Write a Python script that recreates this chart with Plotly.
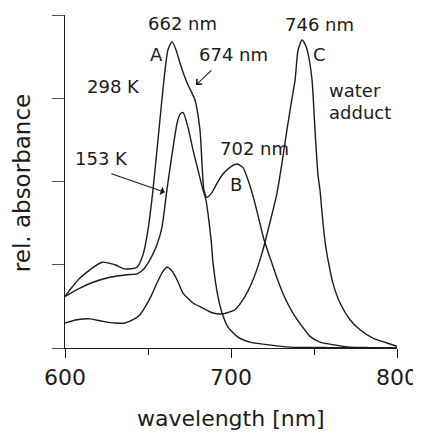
import plotly.graph_objects as go

# ---- data ----
wl_298 = [600.0, 609.0, 622.3, 630.1, 636.1, 643.4, 647.0, 650.0, 653.0, 656.6, 659.6, 662.0, 664.5,
          666.9, 669.3, 671.7, 674.1, 678.3, 681.3, 683.7, 685.5, 688.6, 691.6, 695.2, 699.4, 703.6,
          707.2, 710.2, 713.9, 716.9, 719.9, 724.1, 727.7, 732.5, 737.3, 742.8, 747.6, 753.6, 761.4,
          771.7, 783.7, 800.0]
abs_298 = [0.62, 0.84, 1.03, 1.00, 0.95, 0.97, 1.12, 1.42, 1.90, 2.62, 3.22, 3.58, 3.68,
           3.58, 3.42, 3.28, 3.16, 2.98, 2.62, 1.90, 1.81, 1.87, 1.98, 2.09, 2.17, 2.21,
           2.17, 2.02, 1.78, 1.54, 1.30, 1.05, 0.84, 0.60, 0.42, 0.26, 0.14, 0.07, 0.04,
           0.01, 0.005, 0.0]

wl_153 = [600.0, 609.0, 616.9, 627.1, 637.3, 643.4, 647.0, 650.0, 653.0, 655.4, 658.4, 661.4, 665.1,
          667.5, 669.3, 671.1, 674.1, 677.1, 680.1, 683.1, 684.9, 686.1, 688.0, 689.2, 692.2, 694.6,
          698.2, 704.2, 711.4, 721.7, 735.5, 759.6, 800.0]
abs_153 = [0.62, 0.72, 0.79, 0.85, 0.88, 0.89, 0.94, 1.02, 1.13, 1.24, 1.45, 1.90, 2.41,
           2.70, 2.81, 2.83, 2.65, 2.38, 2.14, 1.90, 1.78, 1.62, 1.30, 1.02, 0.61, 0.42,
           0.25, 0.13, 0.07, 0.04, 0.01, 0.005, 0.0]

wl_water = [600.0, 607.2, 615.1, 622.9, 630.1, 636.1, 641.0, 645.2, 648.2, 651.8, 655.4, 659.0, 661.4,
            663.9, 667.5, 671.1, 677.1, 683.1, 689.2, 695.2, 702.4, 707.2, 713.3, 718.7, 723.5, 727.7,
            730.7, 733.7, 736.1, 738.6, 740.4, 742.8, 744.6, 746.4, 748.8, 750.6, 752.4, 753.6, 754.8,
            756.0, 757.2, 759.0, 761.4, 765.7, 771.7, 777.7, 785.5, 794.0, 800.0]
abs_water = [0.30, 0.34, 0.35, 0.32, 0.30, 0.30, 0.34, 0.40, 0.49, 0.62, 0.78, 0.92, 0.97,
             0.94, 0.82, 0.66, 0.54, 0.48, 0.42, 0.41, 0.46, 0.58, 0.82, 1.14, 1.51, 1.86,
             2.22, 2.62, 2.92, 3.22, 3.58, 3.70, 3.65, 3.54, 3.22, 2.62, 2.08, 1.90, 1.63,
             1.39, 1.20, 1.00, 0.78, 0.54, 0.34, 0.22, 0.12, 0.06, 0.02]

x_tick_vals = [600, 700, 800]
x_tick_text = ["600", "700", "800"]
y_tick_vals = [0, 1, 2, 3, 4]

FONT = "DejaVu Sans"
INK = "#1c1c1c"

fig = go.Figure()
for wl, ab, name in [(wl_298, abs_298, "298 K"), (wl_153, abs_153, "153 K"),
                     (wl_water, abs_water, "water adduct")]:
    fig.add_trace(go.Scatter(x=wl, y=ab, mode="lines", name=name,
                             line=dict(color=INK, width=1.4, shape="spline", smoothing=0.6),
                             hoverinfo="skip"))

labels = [
    ("662 nm", 670.5, 3.90, "center"),
    ("A", 655.4, 3.52, "center"),
    ("674 nm", 701.8, 3.53, "center"),
    ("298 K", 629.5, 3.14, "center"),
    ("153 K", 621.7, 2.28, "center"),
    ("702 nm", 713.9, 2.40, "center"),
    ("B", 703.0, 1.96, "center"),
    ("746 nm", 753.6, 3.88, "center"),
    ("C", 753.6, 3.52, "center"),
    ("water", 757.8, 3.09, "left"),
    ("adduct", 757.8, 2.83, "left"),
]
annotations = []
for t, x, y, xa in labels:
    annotations.append(dict(text=t, x=x, y=y, xref="x", yref="y", showarrow=False,
                            xanchor=xa, yanchor="middle",
                            font=dict(family=FONT, size=18, color=INK)))

# arrows
annotations.append(dict(text="", x=678.9, y=3.16, xref="x", yref="y", showarrow=True,
                        ax=17, ay=-16, arrowhead=4, arrowsize=1.3, arrowwidth=1.1,
                        arrowcolor=INK))
annotations.append(dict(text="", x=660.2, y=1.87, xref="x", yref="y", showarrow=True,
                        ax=-55, ay=-19, arrowhead=1, arrowsize=1.3, arrowwidth=1.1,
                        arrowcolor=INK))

# axis titles
annotations.append(dict(text="wavelength [nm]", x=0.5, y=-0.213, xref="paper", yref="paper",
                        showarrow=False, xanchor="center", yanchor="middle",
                        font=dict(family=FONT, size=22, color=INK)))
annotations.append(dict(text="rel. absorbance", x=-0.1295, y=0.495, xref="paper", yref="paper",
                        showarrow=False, xanchor="center", yanchor="middle", textangle=-90,
                        font=dict(family=FONT, size=23, color=INK)))

# the page adds an 8 px body margin, so the figure is 8 px smaller and shifted
fig.update_layout(
    width=413, height=427,
    margin=dict(l=57, r=24, t=7, b=87, autoexpand=False),
    paper_bgcolor="white", plot_bgcolor="white",
    showlegend=False,
    annotations=annotations,
    xaxis=dict(range=[600, 800], tickmode="array", tickvals=x_tick_vals, ticktext=x_tick_text,
               ticks="outside", ticklen=9, tickwidth=1.3, tickcolor=INK,
               showline=True, linecolor=INK, linewidth=1.4, showgrid=False, zeroline=False,
               tickfont=dict(family=FONT, size=22, color=INK), automargin=False,
               minor=dict(tickvals=[650, 750], ticks="outside", ticklen=6, tickwidth=1.2,
                          tickcolor=INK, showgrid=False)),
    yaxis=dict(range=[0, 4], tickmode="array", tickvals=y_tick_vals, showticklabels=False,
               ticks="outside", ticklen=12, tickwidth=1.2, tickcolor="#555", automargin=False,
               showline=True, linecolor=INK, linewidth=1.4, showgrid=False, zeroline=False),
)

fig.write_html("out.html")
